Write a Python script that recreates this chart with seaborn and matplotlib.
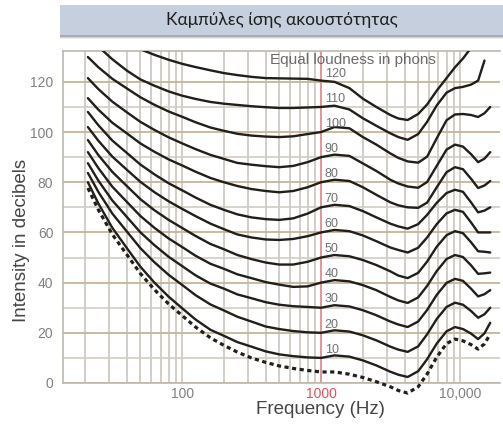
import numpy as np
import pandas as pd
import seaborn as sns
import matplotlib.pyplot as plt
from matplotlib.patches import Rectangle
from matplotlib.ticker import NullFormatter

freqs = [21, 25, 31.5, 40, 50, 63, 80, 100, 125, 160, 200, 250, 315, 400, 500, 630, 800,
         1000, 1250, 1600, 2000, 2500, 3150, 3600, 4200, 5000, 5800, 6800, 8000, 9200,
         10500, 12000, 13500, 15000, 16500]

nan = np.nan
threshold = [77.7, 69, 59.2, 51.2, 43.7, 37.3, 31.5, 26.9, 22.3, 18, 15, 12.3, 10, 8.2, 6.8, 5.8, 5,
             4.4, 4.4, 3.5, 2.2, 0.5, -1.5, -3, -4, -1.5, 3.6, 10.3, 15.7, 17.5,
             16.8, 15.3, 13.5, 15.6, 19.5]
phon_10 = [80, 71.5, 61.8, 53.8, 46.4, 40.1, 34.4, 29.8, 25.3, 21.2, 18.8, 16.3, 14.5, 12.6, 11.4, 10.7, 10.2,
           10, 11, 10.5, 9, 7, 4.5, 3.3, 2.4, 4.7, 9.5, 15.7, 20.6, 22.3,
           21.5, 19.7, 17.5, 19.8, 24]
phon_20 = [83.7, 76.1, 67.5, 60.4, 53.8, 48.2, 43.1, 39.1, 35, 31.3, 28.9, 26.4, 24.5, 22.5, 21.5, 20.7, 20.2,
           20, 21, 20.5, 19, 17, 14.5, 13.3, 12.4, 14.6, 19.4, 25.5, 30.3, 32,
           31.2, 28.7, 26, 27.4, 30]
phon_30 = [87.6, 80.6, 72.7, 66.2, 60.1, 55, 50.3, 46.6, 42.9, 39.6, 37.6, 35.3, 33.8, 32.2, 31.2, 30.6, 30.3,
           30, 31, 30.5, 29, 27, 24.5, 23.3, 22.3, 24.5, 29.1, 35.1, 39.9, 41.5,
           40.7, 37.6, 34.5, 35.4, 37]
phon_40 = [92, 85.6, 78.2, 72.2, 66.6, 61.9, 57.6, 54.2, 50.7, 47.5, 45.5, 43.3, 41.8, 40.2, 39.2, 38.3, 38.5,
           40, 41, 40.5, 39, 37, 34.3, 32.9, 31.9, 34.1, 38.7, 44.6, 49.4, 51,
           50.2, 46.9, 43.5, 43.7, 44]
phon_50 = [96.8, 90.8, 84.1, 78.5, 73.3, 68.9, 65, 61.8, 58.6, 55.4, 53.3, 51, 49.4, 48, 47.2, 47.2, 48.3,
           50, 51, 50.5, 49, 47, 44.5, 42.8, 41.8, 43.9, 48.4, 54.3, 58.9, 60.5,
           59.7, 56.1, 52.5, 52.3, 52]
phon_60 = [102, 96.5, 90.2, 85, 80.2, 76.1, 72.4, 69.4, 66.5, 63.5, 61.3, 59.2, 58, 57.2, 57, 57.4, 58.5,
           60, 61, 60.5, 58.8, 56.5, 54, 53, 52, 53.9, 58, 63.3, 67.6, 69,
           68.2, 64, 60, 60, 60]
phon_70 = [108, 102.7, 96.6, 91.7, 87.1, 83.2, 79.6, 76.8, 73.9, 71, 69, 67.2, 66, 65.3, 65, 65.6, 67.5,
           70, 71, 70.5, 68.5, 66, 63.5, 62.4, 61.5, 63.3, 67, 71.8, 75.7, 77,
           76.2, 72, 68, 68.7, 70]
phon_80 = [113.5, 108.9, 103.7, 99.5, 95.5, 92.2, 89.1, 86.7, 84.2, 81.7, 80, 78.5, 77.3, 76.5, 76, 76.5, 78,
           80, 81, 80.5, 78, 75, 72, 70.8, 70, 69.8, 71.9, 78, 84, 86,
           85.2, 81.4, 77.7, 78.7, 80.5]
phon_90 = [121.5, 117.1, 112.1, 107.9, 104.1, 100.9, 97.9, 95.5, 93.2, 90.9, 89.3, 87.7, 87, 86.4, 86, 86.5, 88,
           90, 91, 90.5, 87.5, 84.5, 81, 79.5, 78.3, 77.8, 80.1, 86.5, 93, 95,
           94.2, 91.2, 88, 89.4, 92]
phon_100 = [129.9, 125.8, 121.2, 117.4, 113.9, 110.9, 108.2, 106.1, 103.9, 101.8, 100.5, 99.3, 98.6, 98.2, 98, 98.3, 99.2,
            100, 102, 101.5, 98, 95, 91.5, 89.7, 88.3, 87.8, 90.2, 97.5, 104.7, 107,
            107.2, 106.8, 106, 107.5, 110]
phon_110 = [nan, 134, 129, 124.5, 121, 118.5, 116.2, 114.5, 113.2, 112, 111.3, 110.8, 110.3, 109.9, 109.6, 109.6, 109.8,
            110, 110.5, 109, 105.5, 102.5, 99.5, 98, 96.9, 99.2, 104.1, 110.6, 115.7, 117.5,
            118, 118.9, 120.5, 128.5, nan]
phon_120 = [nan, nan, nan, nan, 133, 130.8, 128.8, 127.2, 125.9, 124.6, 123.5, 122.7, 122, 121.5, 121.4, 121.3, 121.2,
            120.5, 120, 117.5, 113.3, 110, 106.8, 105.4, 104.8, 107.2, 111, 116.5, 121.5, 125.8,
            129.3, 133.5, nan, nan, nan]

phons = [10, 20, 30, 40, 50, 60, 70, 80, 90, 100, 110, 120]
curves = [phon_10, phon_20, phon_30, phon_40, phon_50, phon_60,
          phon_70, phon_80, phon_90, phon_100, phon_110, phon_120]

rows = []
for p, vals in zip(phons, curves):
    for f, v in zip(freqs, vals):
        rows.append({"freq": f, "level": v, "phon": p})
df = pd.DataFrame(rows).dropna()

sns.set_theme(style="white")
plt.rcParams["font.family"] = ["Liberation Sans", "DejaVu Sans"]

fig = plt.figure(figsize=(5.03, 4.24), dpi=100)
ax = fig.add_axes([63 / 503, 1 - 383 / 424, 437 / 503, 332 / 424])
ax.set_xscale("log")

sns.lineplot(data=df, x="freq", y="level", units="phon", estimator=None,
             color="#221e19", linewidth=1.7, legend=False, ax=ax, zorder=3)
sns.lineplot(x=freqs, y=threshold, color="#221e19", linewidth=2.3,
             linestyle=(0, (1.3, 1.1)), ax=ax, zorder=3)
ax.lines[-1].set_clip_on(False)

ax.set_xlim(13.9, 19400)
ax.set_ylim(0, 132.3)

ax.set_xticks([100, 1000, 10000])
ax.set_xticklabels(["100", "1000", "10,000"])
minor_x = [20, 30, 40, 50, 60, 70, 80, 90, 200, 300, 400, 500, 600, 700, 800, 900,
           2000, 3000, 4000, 5000, 6000, 7000, 8000, 9000]
ax.set_xticks(minor_x, minor=True)
ax.xaxis.set_minor_formatter(NullFormatter())
ax.set_yticks(range(0, 121, 20))
ax.set_yticks(range(10, 120, 20), minor=True)

ax.tick_params(which="both", length=0)
ax.tick_params(axis="x", pad=3, labelsize=10, labelcolor="#808080")
ax.tick_params(axis="y", pad=7, labelsize=10, labelcolor="#808080")
ax.get_xticklabels()[1].set_color("#e0505f")

ax.grid(which="major", axis="y", color="#c4b596", linewidth=1.3)
ax.grid(which="minor", axis="y", color="#d2cdc4", linewidth=1.2)
ax.grid(which="both", axis="x", color="#cbc6bd", linewidth=1.2)
ax.axvline(1000, color="#ec8a92", linewidth=1.2, zorder=1)
ax.set_axisbelow(True)

for side in ["left", "bottom", "top"]:
    ax.spines[side].set_color("#bdb8ae")
    ax.spines[side].set_linewidth(1.2)
ax.spines["right"].set_visible(False)

for p in phons:
    ax.text(1060, p + 3.3, str(p), fontsize=9, color="#707070", ha="left", va="center", zorder=4)
ax.text(1700, 128.6, "Equal loudness in phons", fontsize=11, color="#6a6a6a",
        ha="center", va="center", zorder=4)

ax.set_xlabel("Frequency (Hz)", fontsize=13.5, color="#454545", va="center")
ax.xaxis.set_label_coords(0.588, -0.081)
ax.set_ylabel("Intensity in decibels", fontsize=13.5, color="#454545", va="center")
ax.yaxis.set_label_coords(-0.096, 0.428)

# title banner with a soft shadow
for i, a in enumerate([0.10, 0.18, 0.30]):
    fig.patches.append(Rectangle((60 / 503, 1 - (39 - i) / 424), 443 / 503, 6 / 424,
                                 transform=fig.transFigure, color="#555555", alpha=a, lw=0))
fig.patches.append(Rectangle((60 / 503, 1 - 35 / 424), 443 / 503, 30 / 424,
                             transform=fig.transFigure, facecolor="#c5cfdd", lw=0))
fig.text(282 / 503, 1 - 20 / 424, "Καμπύλες ίσης ακουστότητας", fontsize=12.5,
         family=["Lato", "DejaVu Sans"], color="#1e1e1e", ha="center", va="center")

fig.savefig("out.png", dpi=100)
